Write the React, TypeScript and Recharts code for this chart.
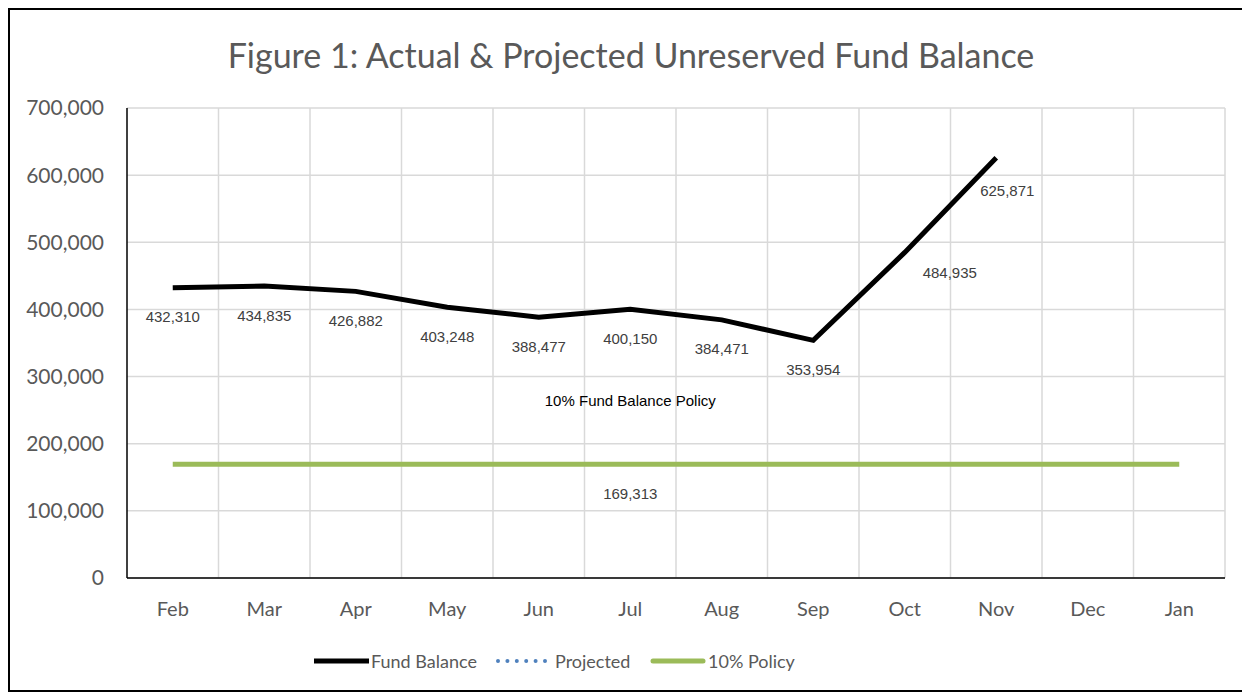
import React from 'react'
import { LineChart, Line, XAxis, YAxis, CartesianGrid, Legend } from 'recharts'

const months = ['Feb', 'Mar', 'Apr', 'May', 'Jun', 'Jul', 'Aug', 'Sep', 'Oct', 'Nov', 'Dec', 'Jan']
const fundBalance = [432310, 434835, 426882, 403248, 388477, 400150, 384471, 353954, 484935, 625871, null, null]
const projected: (number | null)[] = [null, null, null, null, null, null, null, null, null, null, null, null]
const policy = [169313, 169313, 169313, 169313, 169313, 169313, 169313, 169313, 169313, 169313, 169313, 169313]
const yTicks = [0, 100000, 200000, 300000, 400000, 500000, 600000, 700000]

// Excel had a couple of labels dragged by hand
const labelNudge: Record<number, { dx: number; dy: number }> = {
  8: { dx: 45, dy: 20 },
  9: { dx: 11, dy: 33 },
}

const data = months.map((m, i) => ({
  month: m,
  fund: fundBalance[i],
  projected: projected[i],
  policy: policy[i],
}))

const AXIS_FONT = 'Lato, "Open Sans", sans-serif'
const LABEL_FONT = '"Liberation Sans", Arial, sans-serif'
const fmt = (v: number) => v.toLocaleString('en-US')

const FundLabel = (props: any) => {
  const { x, y, value, index } = props
  if (value == null) return null
  const n = labelNudge[index] || { dx: 0, dy: 29 }
  return (
    <text x={x + n.dx} y={y + n.dy} textAnchor="middle" dominantBaseline="central"
      fontFamily={LABEL_FONT} fontSize={15} fill="#404040">
      {fmt(value)}
    </text>
  )
}

const PolicyLabel = (props: any) => {
  const { x, y, value, index } = props
  if (index !== 5) return null
  return (
    <g>
      <text x={x} y={y - 64} textAnchor="middle" dominantBaseline="central"
        fontFamily={LABEL_FONT} fontSize={15} fill="#000">
        10% Fund Balance Policy
      </text>
      <text x={x} y={y + 29} textAnchor="middle" dominantBaseline="central"
        fontFamily={LABEL_FONT} fontSize={15} fill="#404040">
        {fmt(value)}
      </text>
    </g>
  )
}

const legendText: React.CSSProperties = { position: 'absolute', top: 0, lineHeight: '30px' }

const renderLegend = () => (
  <div style={{ position: 'relative', height: 30, width: 1236,
    fontFamily: AXIS_FONT, fontSize: 18, color: '#595959' }}>
    <svg style={{ position: 'absolute', left: 304, top: 10 }} width={56} height={10}>
      <line x1={0} y1={5} x2={55} y2={5} stroke="#000" strokeWidth={5} />
    </svg>
    <span style={{ ...legendText, left: 361 }}>Fund Balance</span>
    <svg style={{ position: 'absolute', left: 485, top: 10 }} width={52} height={10}>
      <line x1={3} y1={5} x2={50} y2={5} stroke="#4F81BD" strokeWidth={4}
        strokeDasharray="0 9.4" strokeLinecap="round" />
    </svg>
    <span style={{ ...legendText, left: 545 }}>Projected</span>
    <svg style={{ position: 'absolute', left: 640, top: 10 }} width={56} height={10}>
      <line x1={3} y1={5} x2={53} y2={5} stroke="#9BBB59" strokeWidth={5} strokeLinecap="round" />
    </svg>
    <span style={{ ...legendText, left: 698 }}>10% Policy</span>
  </div>
)

export default function App() {
  return (
    <div style={{ position: 'relative', width: 1236, height: 680, border: '2px solid #000', background: '#fff' }}>
      <div style={{ position: 'absolute', top: 27, left: 3, width: 1236, textAlign: 'center',
        fontFamily: AXIS_FONT, fontSize: 34, lineHeight: '36px', color: '#595959' }}>
        Figure 1: Actual &amp; Projected Unreserved Fund Balance
      </div>
      <LineChart width={1236} height={680} data={data} margin={{ top: 98, right: 21, bottom: 14, left: 0 }}>
        <CartesianGrid stroke="#D9D9D9" strokeWidth={1.5}
          verticalCoordinatesGenerator={({ offset }: any) =>
            months.map((_, i) => offset.left + ((i + 1) * offset.width) / months.length)} />
        <XAxis dataKey="month" scale="band" axisLine={{ stroke: '#000', strokeWidth: 1.5 }} tickLine={false}
          tickSize={0} tickMargin={24} height={68} interval={0}
          tick={{ fontFamily: AXIS_FONT, fontSize: 20, fill: '#595959' }} />
        <YAxis domain={[0, 700000]} ticks={yTicks} tickFormatter={fmt} width={117}
          axisLine={{ stroke: '#000', strokeWidth: 1.5 }} tickLine={false} tickSize={0} tickMargin={23}
          tick={{ fontFamily: AXIS_FONT, fontSize: 21, fill: '#595959' }} />
        <Legend verticalAlign="bottom" height={30} wrapperStyle={{ left: 0, width: 1236 }} content={renderLegend} />
        <Line type="linear" dataKey="policy" name="10% Policy" stroke="#9BBB59" strokeWidth={5}
          dot={false} activeDot={false} isAnimationActive={false} label={<PolicyLabel />} />
        <Line type="linear" dataKey="projected" name="Projected" stroke="#4F81BD" strokeWidth={4}
          strokeDasharray="0 9" strokeLinecap="round" dot={false} isAnimationActive={false} />
        <Line type="linear" dataKey="fund" name="Fund Balance" stroke="#000" strokeWidth={5}
          dot={false} activeDot={false} isAnimationActive={false} label={<FundLabel />} />
      </LineChart>
    </div>
  )
}
